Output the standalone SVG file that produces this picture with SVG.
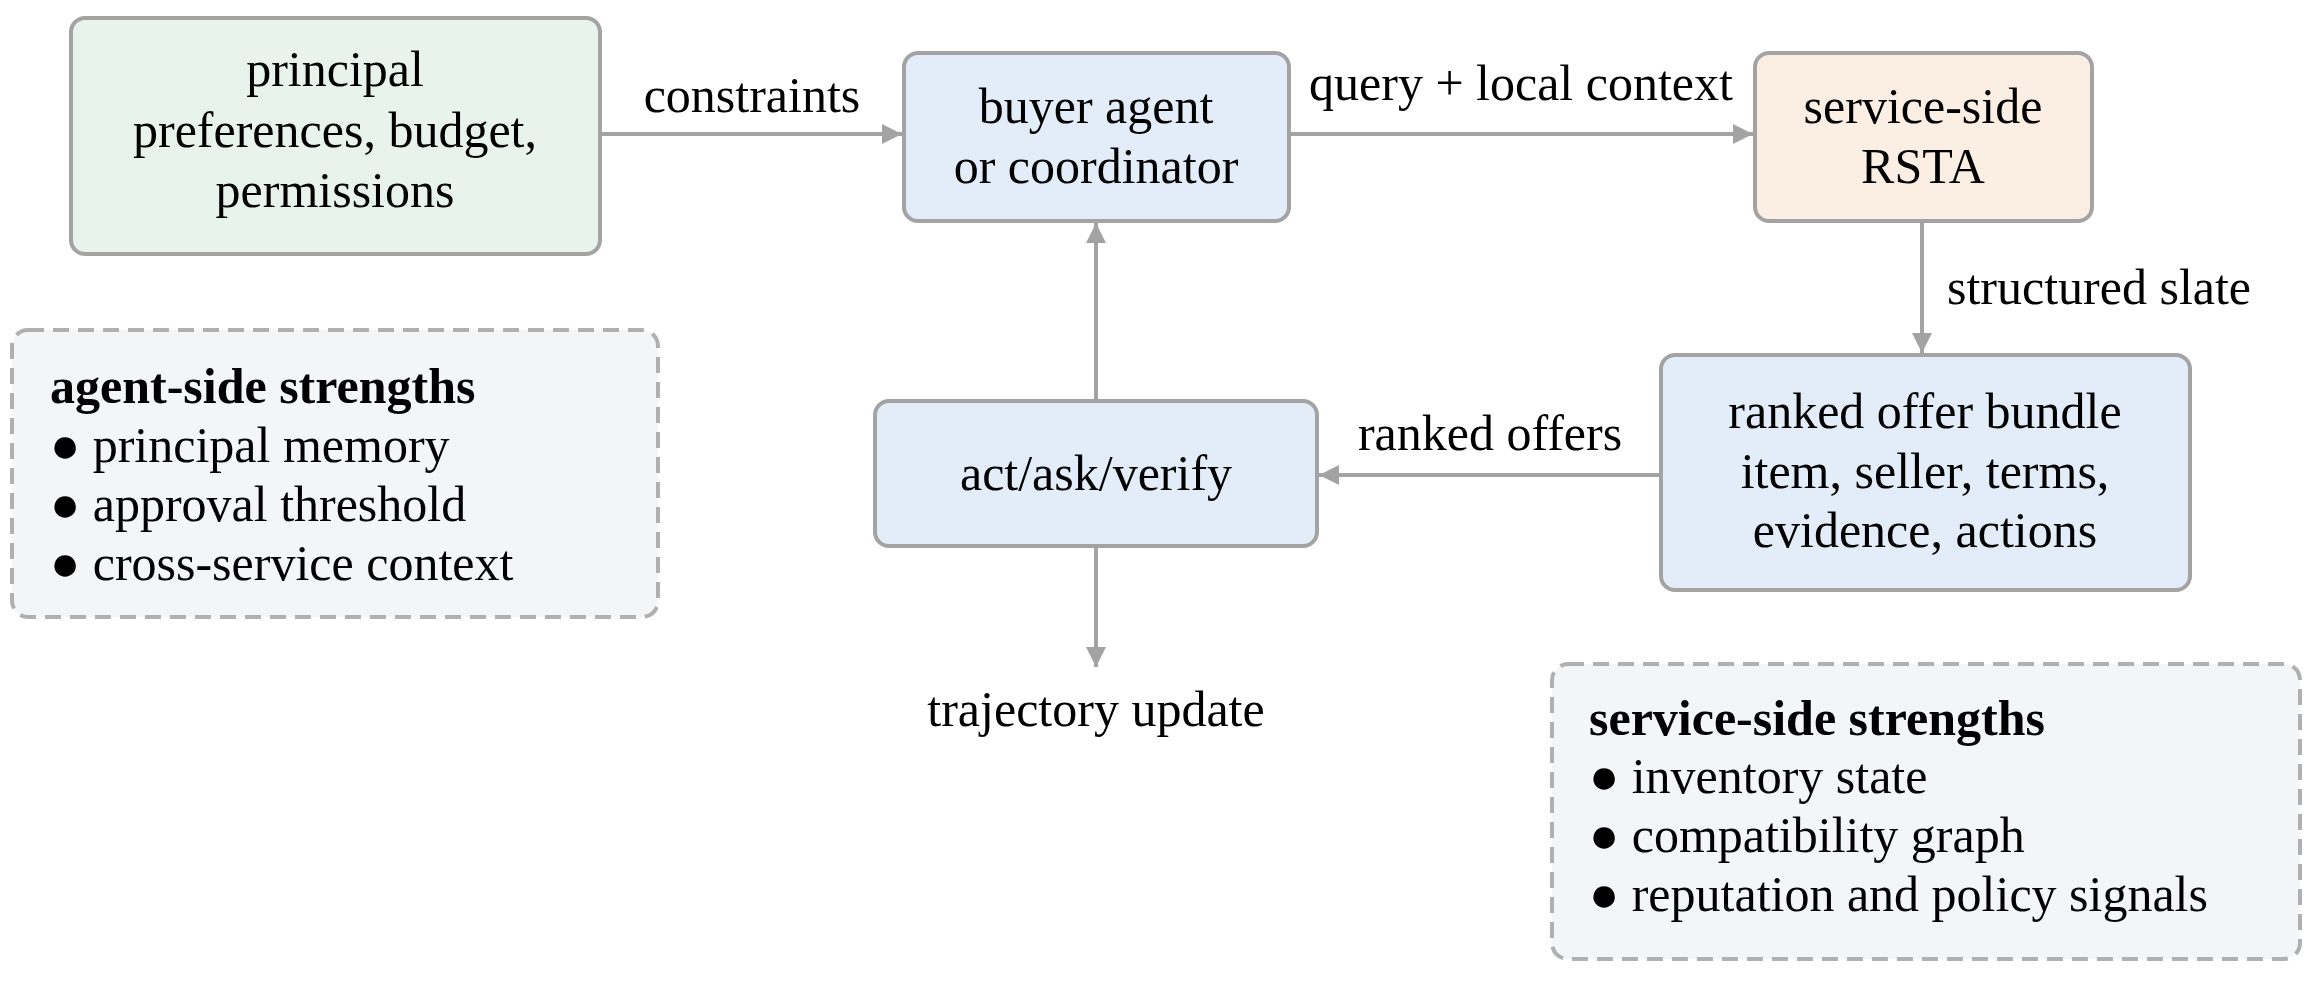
<svg xmlns="http://www.w3.org/2000/svg" width="2313" height="986" viewBox="0 0 2313 986">
<style>
text{font-family:"Liberation Serif","Times New Roman",serif;font-size:50px;fill:#000}
.c{text-anchor:middle}
.b{font-weight:bold}
.n{stroke:#a3a3a3;stroke-width:4}
.d{stroke:#b0b0b0;stroke-width:4;stroke-dasharray:16 9;fill:#f4f5f7}
.e{stroke:#a3a3a3;stroke-width:4;fill:none;marker-end:url(#ah)}
</style>
<defs><marker id="ah" viewBox="0 0 10 10" refX="10" refY="5" markerWidth="5" markerHeight="5" orient="auto" markerUnits="strokeWidth"><path d="M0,0 L10,5 L0,10 z" fill="#a3a3a3"/></marker></defs>
<rect width="2313" height="986" fill="#fff"/>
<g id="edges">
<line class="e" x1="600" y1="134" x2="902" y2="134"/>
<line class="e" x1="1289" y1="134" x2="1753" y2="134"/>
<line class="e" x1="1922" y1="221" x2="1922" y2="353"/>
<line class="e" x1="1661" y1="475" x2="1319" y2="475"/>
<line class="e" x1="1096" y1="401" x2="1096" y2="223"/>
<line class="e" x1="1096" y1="546" x2="1096" y2="667"/>
<text class="c" x="752" y="112">constraints</text>
<text class="c" x="1521" y="100">query + local context</text>
<text x="1947" y="304">structured slate</text>
<text class="c" x="1490" y="450">ranked offers</text>
<text class="c" x="1096" y="726">trajectory update</text>
</g>
<g id="principal"><rect class="n" x="71" y="18" width="529" height="236" rx="14" fill="#e9f3ee"/>
<text class="c" x="335" y="86">principal</text><text class="c" x="335" y="147">preferences, budget,</text><text class="c" x="335" y="207">permissions</text></g>
<g id="buyer"><rect class="n" x="904" y="53" width="385" height="168" rx="14" fill="#e3edf9"/>
<text class="c" x="1096" y="123">buyer agent</text><text class="c" x="1096" y="183">or coordinator</text></g>
<g id="rsta"><rect class="n" x="1755" y="53" width="337" height="168" rx="14" fill="#fbeee2"/>
<text class="c" x="1923" y="123">service-side</text><text class="c" x="1923" y="183">RSTA</text></g>
<g id="bundle"><rect class="n" x="1661" y="355" width="529" height="235" rx="14" fill="#e3edf9"/>
<text class="c" x="1925" y="428">ranked offer bundle</text><text class="c" x="1925" y="488">item, seller, terms,</text><text class="c" x="1925" y="547">evidence, actions</text></g>
<g id="act"><rect class="n" x="875" y="401" width="442" height="145" rx="14" fill="#e3edf9"/>
<text class="c" x="1096" y="490">act/ask/verify</text></g>
<g id="agentside"><rect class="d" x="12" y="330" width="646" height="287" rx="16"/>
<text class="b" x="50" y="403">agent-side strengths</text>
<text x="50" y="462">● principal memory</text><text x="50" y="521">● approval threshold</text><text x="50" y="580">● cross-service context</text></g>
<g id="serviceside"><rect class="d" x="1552" y="664" width="748" height="295" rx="16"/>
<text class="b" x="1589" y="735">service-side strengths</text>
<text x="1589" y="793">● inventory state</text><text x="1589" y="852">● compatibility graph</text><text x="1589" y="911">● reputation and policy signals</text></g>
</svg>
